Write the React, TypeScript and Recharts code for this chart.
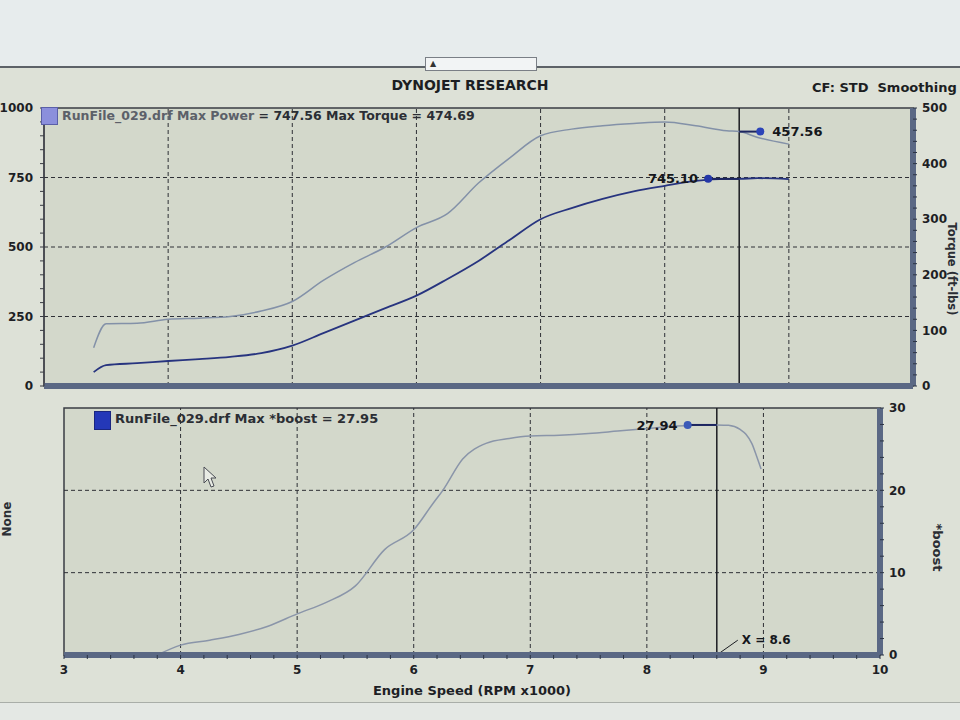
import { LineChart, Line, XAxis, YAxis, CartesianGrid, ReferenceLine, ReferenceArea, ReferenceDot } from "recharts";

// upper panel: power (left axis, hp) and torque (right axis, ft-lbs)
const rpm = [3.4, 3.5, 3.75, 4.0, 4.25, 4.5, 4.75, 5.0, 5.25, 5.5, 5.75, 6.0, 6.25, 6.5, 6.75, 7.0, 7.25, 7.5, 7.75, 8.0, 8.25, 8.5, 8.6, 8.75, 9.0];
const powerHp = [50, 75, 82, 90, 97, 105, 118, 145, 190, 235, 280, 325, 385, 450, 525, 600, 640, 673, 700, 720, 738, 745, 745.1, 747.56, 744];
const torqueFtLbs = [69, 112, 113, 120, 122, 125, 135, 152, 190, 222, 250, 285, 310, 365, 410, 450, 462, 468, 472, 474.69, 468, 459, 457.56, 447, 435];

// lower panel: boost
const boostRpm = [3.8, 4.0, 4.25, 4.5, 4.75, 5.0, 5.25, 5.5, 5.75, 6.0, 6.17, 6.25, 6.42, 6.62, 6.82, 7.0, 7.25, 7.5, 7.75, 8.0, 8.25, 8.5, 8.6, 8.7, 8.8, 8.85, 8.9, 8.95, 8.98];
const boostPsi = [0, 1.2, 1.8, 2.5, 3.5, 5.0, 6.4, 8.4, 12.8, 15.2, 18.5, 20, 23.8, 25.7, 26.3, 26.6, 26.7, 26.9, 27.2, 27.5, 27.8, 27.95, 27.94, 27.9, 27.4, 26.8, 25.7, 23.8, 22.6];

const rpmTicks = [3, 4, 5, 6, 7, 8, 9, 10];
const rpmGrid = [4, 5, 6, 7, 8, 9];
const hpTicks = [0, 250, 500, 750, 1000];
const hpGrid = [250, 500, 750];
const tqTicks = [0, 100, 200, 300, 400, 500];
const boostTicks = [0, 10, 20, 30];
const boostGrid = [10, 20];

const cursorRpm = 8.6;
const cursorPower = 745.1;
const cursorTorque = 457.56;
const cursorBoost = 27.94;

const powerData = rpm.map((r, i) => ({ rpm: r, power: powerHp[i], torque: torqueFtLbs[i] }));
const boostData = boostRpm.map((r, i) => ({ rpm: r, boost: boostPsi[i] }));

// minor tick positions along an axis
const steps = (from: number, to: number, step: number) => {
  const out: number[] = [];
  for (let v = from; v <= to + 1e-9; v += step) out.push(Math.round(v * 100) / 100);
  return out;
};
const majorOnly = (majors: number[]) => (v: number) => (majors.includes(v) ? String(v) : "");

const FONT = "'DejaVu Sans', Verdana, sans-serif";
const PLOT_BG = "#d3d8cb";
const FRAME = "#3a3d44";
const BAR = "#5a6884";
const GRID = "#2e3036";
const tickStyle = { fill: "#1d1f25", fontSize: 12, fontWeight: 700, fontFamily: FONT };
const valueLabel = { fill: "#15171c", fontSize: 13, fontWeight: 700, fontFamily: FONT };

function TopChart() {
  return (
    <LineChart width={960} height={400} data={powerData} margin={{ top: 108, right: 7, bottom: 6, left: 4 }}>
      <CartesianGrid horizontal={false} vertical={false} fill={PLOT_BG} />
      <XAxis dataKey="rpm" type="number" domain={[3, 10]} ticks={rpmTicks} tick={false} tickLine={false}
        axisLine={{ stroke: BAR, strokeWidth: 6 }} height={8} />
      <YAxis yAxisId="hp" domain={[0, 1000]} ticks={steps(0, 1000, 50)} interval={0} width={40}
        tickSize={4} tickMargin={7} tickFormatter={majorOnly(hpTicks)} tick={tickStyle}
        axisLine={{ stroke: FRAME }} tickLine={{ stroke: FRAME }} />
      <YAxis yAxisId="tq" orientation="right" domain={[0, 500]} ticks={steps(0, 500, 20)} interval={0} width={40}
        tickSize={4} tickMargin={5} tickFormatter={majorOnly(tqTicks)} tick={tickStyle}
        axisLine={{ stroke: BAR, strokeWidth: 6 }} tickLine={{ stroke: "#2c3444" }} />
      {hpGrid.map((v) => (
        <ReferenceLine key={"h" + v} yAxisId="hp" y={v} stroke={GRID} strokeDasharray="4 3" />
      ))}
      {rpmGrid.map((v) => (
        <ReferenceLine key={"v" + v} yAxisId="hp" x={v} stroke={GRID} strokeDasharray="4 3" />
      ))}
      <ReferenceArea yAxisId="hp" x1={3} x2={10} y1={0} y2={1000} fill="none" fillOpacity={0} stroke={FRAME} strokeWidth={1.5} />
      <ReferenceLine yAxisId="hp" x={cursorRpm} stroke="#1b1d22" strokeWidth={1.5} />
      <Line yAxisId="tq" dataKey="torque" type="monotone" stroke="#8391a8" strokeWidth={1.5} dot={false} isAnimationActive={false} />
      <Line yAxisId="hp" dataKey="power" type="monotone" stroke="#27347f" strokeWidth={1.8} dot={false} isAnimationActive={false} />
      <ReferenceLine yAxisId="hp" segment={[{ x: 8.35, y: cursorPower }, { x: cursorRpm, y: cursorPower }]} stroke="#1c2560" strokeWidth={2} />
      <ReferenceDot yAxisId="hp" x={8.35} y={cursorPower} r={4} fill="#2437a8" stroke="none"
        label={{ value: cursorPower.toFixed(2), position: "left", offset: 6, ...valueLabel }} />
      <ReferenceLine yAxisId="tq" segment={[{ x: cursorRpm, y: cursorTorque }, { x: 8.77, y: cursorTorque }]} stroke="#1c2560" strokeWidth={2} />
      <ReferenceDot yAxisId="tq" x={8.77} y={cursorTorque} r={4} fill="#2c44b8" stroke="none"
        label={{ value: cursorTorque.toFixed(2), position: "right", offset: 8, ...valueLabel }} />
    </LineChart>
  );
}

function BottomChart() {
  return (
    <LineChart width={960} height={325} data={boostData} margin={{ top: 13, right: 40, bottom: 25, left: 64 }}>
      <CartesianGrid horizontal={false} vertical={false} fill={PLOT_BG} />
      <XAxis dataKey="rpm" type="number" domain={[3, 10]} ticks={steps(3, 10, 0.2)} interval={0}
        tickSize={4} tickMargin={6} tickFormatter={majorOnly(rpmTicks)} tick={tickStyle}
        axisLine={{ stroke: BAR, strokeWidth: 6 }} tickLine={{ stroke: "#2c3444" }} height={40}
        label={{ value: "Engine Speed (RPM x1000)", position: "insideBottom", offset: 0, ...tickStyle, fontSize: 13 }} />
      <YAxis yAxisId="boost" orientation="right" domain={[0, 30]} ticks={steps(0, 30, 2)} interval={0} width={40}
        tickSize={4} tickMargin={5} tickFormatter={majorOnly(boostTicks)} tick={tickStyle}
        axisLine={{ stroke: BAR, strokeWidth: 6 }} tickLine={{ stroke: "#2c3444" }} />
      {boostGrid.map((v) => (
        <ReferenceLine key={"h" + v} yAxisId="boost" y={v} stroke={GRID} strokeDasharray="4 3" />
      ))}
      {rpmGrid.map((v) => (
        <ReferenceLine key={"v" + v} yAxisId="boost" x={v} stroke={GRID} strokeDasharray="4 3" />
      ))}
      <ReferenceArea yAxisId="boost" x1={3} x2={10} y1={0} y2={30} fill="none" fillOpacity={0} stroke={FRAME} strokeWidth={1.5} />
      <ReferenceLine yAxisId="boost" x={cursorRpm} stroke="#1b1d22" strokeWidth={1.5} />
      <Line yAxisId="boost" dataKey="boost" type="monotone" stroke="#8a95a9" strokeWidth={1.5} dot={false} isAnimationActive={false} />
      <ReferenceLine yAxisId="boost" segment={[{ x: 8.35, y: cursorBoost }, { x: cursorRpm, y: cursorBoost }]} stroke="#1c2560" strokeWidth={2} />
      <ReferenceDot yAxisId="boost" x={8.35} y={cursorBoost} r={4} fill="#3a5ab8" stroke="none"
        label={{ value: cursorBoost.toFixed(2), position: "left", offset: 6, ...valueLabel }} />
      <ReferenceLine yAxisId="boost" segment={[{ x: cursorRpm, y: 0 }, { x: 8.78, y: 1.8 }]} stroke="#1b1d22" />
      <ReferenceDot yAxisId="boost" x={8.78} y={1.8} r={0} fill="none" stroke="none"
        label={{ value: "X = " + cursorRpm, position: "right", offset: 4, ...valueLabel, fontSize: 12 }} />
    </LineChart>
  );
}

const boldText = { fontFamily: FONT, fontWeight: 700, position: "absolute" as const, whiteSpace: "nowrap" as const };

export default function App() {
  return (
    <div style={{ position: "absolute", left: 0, top: 0, width: 960, height: 720, overflow: "hidden", background: "#dde1d7" }}>
      <div style={{ position: "absolute", left: 0, top: 0, width: 960, height: 66, background: "#e7eced" }} />
      <div style={{ position: "absolute", left: 0, top: 66, width: 960, height: 2, background: "#5d6268" }} />
      <div style={{ position: "absolute", left: 425, top: 57, width: 106, height: 12, background: "#f2f4f5", border: "1px solid #7a7f86", fontSize: 8, color: "#333", textAlign: "left", paddingLeft: 4, lineHeight: "12px", fontFamily: FONT }}>▲</div>
      <div style={{ position: "absolute", left: 0, top: 702, width: 960, height: 18, background: "#e4e8e4", borderTop: "1px solid #a9aea8" }} />

      <div style={{ ...boldText, left: 0, width: 940, top: 77, textAlign: "center", fontSize: 14, color: "#1c1e22" }}>DYNOJET RESEARCH</div>
      <div style={{ ...boldText, left: 812, top: 80, fontSize: 13, color: "#1c1e22" }}>CF: STD&nbsp;&nbsp;Smoothing</div>

      <div style={{ position: "absolute", left: 0, top: 0 }}>
        <TopChart />
      </div>
      <div style={{ position: "absolute", left: 0, top: 395 }}>
        <BottomChart />
      </div>

      <div style={{ position: "absolute", left: 41, top: 107, width: 15, height: 16, background: "#8b8fdc", border: "1px solid #5a5fa8" }} />
      <div style={{ ...boldText, left: 62, top: 108, fontSize: 12.5, color: "#2b2e34" }}>
        <span style={{ color: "#5c6069" }}>RunFile_029.drf Max Power</span> = 747.56 Max Torque = 474.69
      </div>
      <div style={{ position: "absolute", left: 94, top: 411, width: 15, height: 17, background: "#2438b8", border: "1px solid #1a2680" }} />
      <div style={{ ...boldText, left: 115, top: 411, fontSize: 13, color: "#2b2e34" }}>RunFile_029.drf Max *boost = 27.95</div>

      {/* mouse pointer left on the screen */}
      <svg style={{ position: "absolute", left: 203, top: 466 }} width={16} height={24}>
        <path d="M1 1 L1 17 L5 13 L8 21 L11 20 L8 12 L13 12 Z" fill="#e8ebe4" stroke="#4a4d55" strokeWidth={1} />
      </svg>

      <div style={{ ...boldText, left: -10, top: 512, fontSize: 12, color: "#2b2e34", transform: "rotate(-90deg)" }}>None</div>
      <div style={{ ...boldText, left: 897, top: 262, fontSize: 11.5, color: "#2b2e34", transform: "rotate(90deg)", transformOrigin: "50% 50%", width: 110, textAlign: "center" }}>Torque (ft-lbs)</div>
      <div style={{ ...boldText, left: 912, top: 540, fontSize: 13, color: "#2b2e34", transform: "rotate(90deg)", width: 50, textAlign: "center" }}>*boost</div>
    </div>
  );
}
